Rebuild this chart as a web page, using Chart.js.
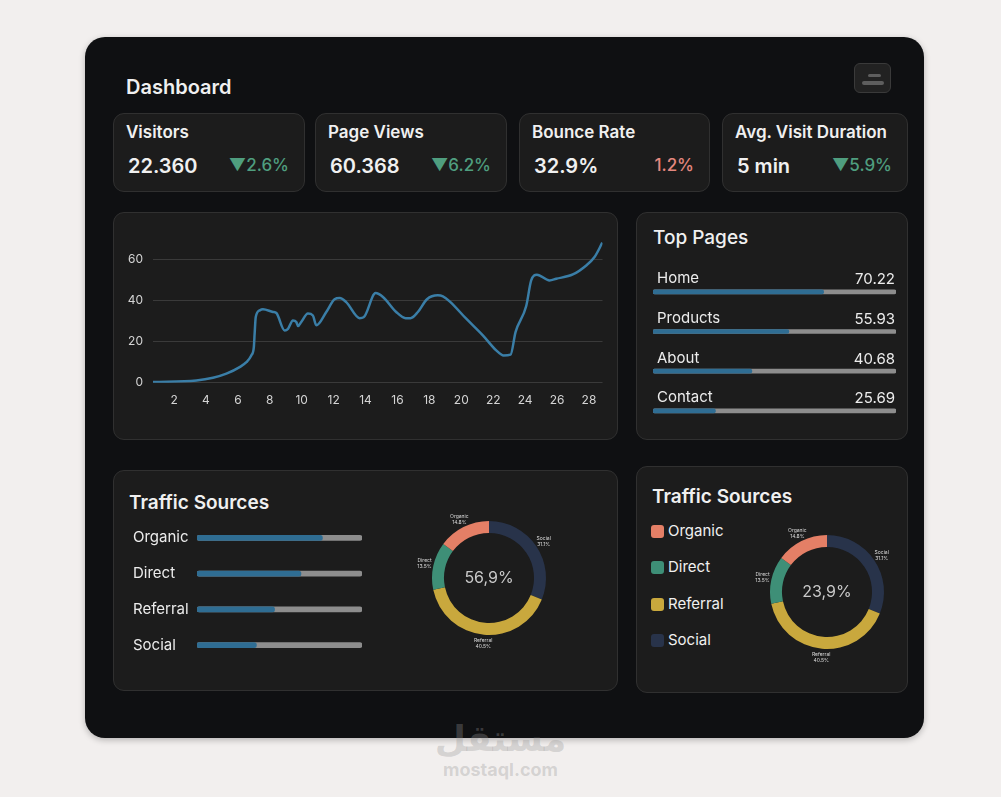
<!DOCTYPE html>
<html>
<head>
<meta charset="utf-8">
<script src="https://cdn.jsdelivr.net/npm/chart.js@4.4.0/dist/chart.umd.min.js"></script>
<style>
body{margin:0;width:1001px;height:797px;background:#f2efee;font-family:Inter,"Noto Sans",sans-serif;position:relative;overflow:hidden;color:#f0f0f0;}
.panel{position:absolute;left:85px;top:37px;width:839px;height:701px;background:#0f1012;border-radius:20px;box-shadow:0 2px 6px rgba(0,0,0,.25);}
.card{position:absolute;background:#1c1c1c;border:1px solid #303030;border-radius:11px;box-sizing:border-box;}
.t{position:absolute;white-space:nowrap;line-height:1;}
canvas{position:absolute;}
.btn{position:absolute;left:854px;top:63px;width:37px;height:30px;box-sizing:border-box;background:#222;border:1px solid #3a3a3a;border-radius:6px;}
.btn i{position:absolute;background:#5e5e5e;border-radius:2px;}
.wm{position:absolute;left:0;width:1001px;text-align:center;color:rgba(150,150,150,.32);font-weight:700;line-height:1;z-index:5;}
</style>
</head>
<body>
<div class="panel"></div>
<div class="t" style="left:126px;top:77px;font-size:20px;font-weight:600;">Dashboard</div>
<div class="btn"><i style="left:13px;top:10px;width:13px;height:3px;"></i><i style="left:7px;top:17px;width:22px;height:4px;"></i></div>

<div id="stats"></div>

<div class="card" style="left:113px;top:212px;width:505px;height:228px;"></div>
<canvas id="lineChart" width="492" height="198" style="left:120px;top:222px;"></canvas>

<div class="card" style="left:636px;top:212px;width:272px;height:228px;"></div>
<div class="t" style="left:653px;top:228px;font-size:19px;font-weight:500;">Top Pages</div>
<canvas id="pagesChart" width="250" height="170" style="left:650px;top:262px;"></canvas>

<div class="card" style="left:113px;top:470px;width:505px;height:221px;"></div>
<div class="t" style="left:129px;top:493px;font-size:19px;font-weight:600;">Traffic Sources</div>
<canvas id="sourceBars" width="237" height="161" style="left:133px;top:511px;"></canvas>
<canvas id="donutLeft" width="160" height="160" style="left:409px;top:498px;"></canvas>

<div class="card" style="left:636px;top:466px;width:272px;height:227px;"></div>
<div class="t" style="left:652px;top:487px;font-size:19px;font-weight:600;">Traffic Sources</div>
<div id="legend"></div>
<canvas id="donutRight" width="160" height="160" style="left:747px;top:512px;"></canvas>

<div class="wm" style="top:721px;font-family:'DejaVu Sans',sans-serif;font-size:36px;">مستقل</div>
<div class="wm" style="top:761px;font-size:18px;">mostaql.com</div>

<script>
// ======================================
// DATA
// ======================================

const statLabels = ["Visitors","Page Views","Bounce Rate","Avg. Visit Duration"];
const statValues = ["22.360","60.368","32.9%","5 min"];
const statChanges = ["▼2.6%","▼6.2%","1.2%","▼5.9%"];
const statUp = [false,false,true,false];

const dayX = [0.68,3.4,4.44,5.28,6.11,6.53,6.84,7.0,7.05,7.12,7.37,7.57,8.2,8.41,8.93,9.14,9.45,9.66,9.77,9.97,10.39,10.7,10.91,11.54,12.06,12.38,12.79,13.63,13.88,14.63,15.09,15.92,16.51,16.82,17.28,17.85,18.53,18.85,19.27,20.31,21.35,22.19,22.65,23.09,23.4,24.07,24.38,24.74,25.53,25.95,26.99,27.83,28.35,28.84];
const visits = [0.3,1.1,2.4,4.4,7.6,10,13.3,17.4,24,32,35.3,35.8,34.5,34,25.5,26.3,30.4,29.6,27.6,29.6,33.7,32.8,28,34.5,40.7,41.3,39.3,31.5,31.9,43.7,41.8,34.5,31.5,31.5,34.5,40.7,42.6,42.1,39.7,31.2,23.1,15.8,13.3,13.7,24.7,37.4,49.9,52.7,49.9,50.7,52.8,57.2,61.3,68.3];
const dayTicks = [2,4,6,8,10,12,14,16,18,20,22,24,26,28];
const visitTicks = [0,20,40,60];

const pageNames = ["Home","Products","About","Contact"];
const pageValues = [70.22,55.93,40.68,25.69];

const sourceNames = ["Organic","Direct","Referral","Social"];
const sourceBarValues = [76,63,47,36];
const sourceShares = [14.8,13.5,40.5,31.1];
const donutCenters = ["56,9%","23,9%"];

// styles
const sourceColors = ["#e47f66","#3e8f77","#c9a83d","#28334a"];
const blue = "#2f6d93";
const track = "#8d8d8d";

Chart.defaults.font.family = "Inter, 'Noto Sans', sans-serif";
Chart.defaults.color = "#e8e8e8";
Chart.defaults.animation = false;
Chart.defaults.plugins.legend.display = false;
Chart.defaults.plugins.tooltip.enabled = false;

// ======================================
// STAT CARDS
// ======================================

const cardLeft = [113,315,519,722];
const cardWidth = [192,192,191,186];
let html = "";
statLabels.forEach((label,i)=>{
    const l = cardLeft[i];
    html += `<div class="card" style="left:${l}px;top:113px;width:${cardWidth[i]}px;height:79px;"></div>`;
    html += `<div class="t" style="left:${l+13}px;top:124px;font-size:17px;font-weight:600;">${label}</div>`;
    html += `<div class="t" style="left:${l+15}px;top:156px;font-size:20px;font-weight:600;">${statValues[i]}</div>`;
    html += `<div class="t" style="left:${l}px;width:${cardWidth[i]-16}px;text-align:right;top:157px;font-size:17px;font-weight:500;color:${statUp[i] ? "#e4877e" : "#4f9e7f"};">${statChanges[i]}</div>`;
});
document.getElementById("stats").innerHTML = html;

// legend for right donut
let lg = "";
sourceNames.forEach((name,i)=>{
    const y = [531,567,604,640][i];
    lg += `<div style="position:absolute;left:651px;top:${y-6}px;width:13px;height:13px;border-radius:3px;background:${sourceColors[i]};"></div>`;
    lg += `<div class="t" style="left:668px;top:${y-8}px;font-size:15px;">${name}</div>`;
});
document.getElementById("legend").innerHTML = lg;

// ======================================
// LINE CHART
// ======================================

new Chart(document.getElementById("lineChart"),{
    type:"line",
    data:{
        datasets:[{
            data:dayX.map((x,i)=>({x:x,y:visits[i]})),
            borderColor:"#3a7ea7",
            borderWidth:2.5,
            pointRadius:0,
            cubicInterpolationMode:"monotone",
            fill:false
        }]
    },
    options:{
        responsive:false,
        layout:{padding:{top:0,right:9.5}},
        scales:{
            x:{
                type:"linear",
                min:0.68,
                max:28.85,
                grid:{display:false,drawTicks:false},
                border:{display:false},
                afterBuildTicks:s=>{ s.ticks = dayTicks.map(v=>({value:v})); },
                afterFit:s=>{ s.height = 37.3; },
                ticks:{padding:10,font:{size:12},color:"#d4d4d4",maxRotation:0,autoSkip:false}
            },
            y:{
                min:0,
                max:70,
                grid:{color:"#3a3a3a",drawTicks:false},
                border:{display:false},
                afterBuildTicks:s=>{ s.ticks = visitTicks.map(v=>({value:v})); },
                afterFit:s=>{ s.width = 33; },
                ticks:{padding:10,font:{size:12},color:"#d4d4d4"}
            }
        }
    }
});

// ======================================
// TOP PAGES
// ======================================

const pageLabels = {
    id:"pageLabels",
    afterDatasetsDraw(chart){
        const ctx = chart.ctx;
        const meta = chart.getDatasetMeta(0);
        ctx.save();
        ctx.font = "15px Inter, 'Noto Sans', sans-serif";
        ctx.fillStyle = "#ececec";
        ctx.textBaseline = "middle";
        meta.data.forEach((bar,i)=>{
            ctx.textAlign = "left";
            ctx.fillText(pageNames[i], chart.chartArea.left + 4, bar.y - 13);
            ctx.textAlign = "right";
            ctx.fillText(pageValues[i].toFixed(2), chart.chartArea.right - 1, bar.y - 12);
        });
        ctx.restore();
    }
};

new Chart(document.getElementById("pagesChart"),{
    type:"bar",
    data:{
        labels:pageNames,
        datasets:[
            {data:pageValues,backgroundColor:blue,grouped:false,barThickness:4,borderRadius:2,borderSkipped:false},
            {data:pageValues.map(()=>100),backgroundColor:track,grouped:false,barThickness:4,borderRadius:2,borderSkipped:false}
        ]
    },
    options:{
        responsive:false,
        indexAxis:"y",
        layout:{padding:{top:10,left:3,right:4,bottom:1.3}},
        scales:{
            x:{display:false,min:0,max:100},
            y:{display:false}
        }
    },
    plugins:[pageLabels]
});

// ======================================
// TRAFFIC SOURCE BARS
// ======================================

new Chart(document.getElementById("sourceBars"),{
    type:"bar",
    data:{
        labels:sourceNames,
        datasets:[
            {data:sourceBarValues,backgroundColor:blue,grouped:false,barThickness:5,borderRadius:3,borderSkipped:false},
            {data:sourceBarValues.map(()=>100),backgroundColor:track,grouped:false,barThickness:5,borderRadius:3,borderSkipped:false}
        ]
    },
    options:{
        responsive:false,
        indexAxis:"y",
        layout:{padding:{right:8}},
        scales:{
            x:{display:false,min:0,max:100},
            y:{
                grid:{display:false,drawTicks:false},
                border:{display:false},
                afterFit:s=>{ s.width = 64; },
                ticks:{crossAlign:"far",font:{size:15},color:"#ececec",padding:0}
            }
        }
    }
});

// ======================================
// DONUTS
// ======================================

const donutOrder = [3,2,1,0];

function donutText(center){
    return {
        id:"donutText",
        afterDatasetsDraw(chart){
            const ctx = chart.ctx;
            const meta = chart.getDatasetMeta(0);
            const arc0 = meta.data[0];
            ctx.save();
            ctx.fillStyle = "#c9c9c9";
            ctx.textAlign = "center";
            ctx.textBaseline = "middle";
            ctx.font = "16px Inter, 'Noto Sans', sans-serif";
            ctx.fillText(center, arc0.x, arc0.y);
            ctx.font = "5px Inter, 'Noto Sans', sans-serif";
            ctx.fillStyle = "#dcdcdc";
            meta.data.forEach((arc,i)=>{
                const k = donutOrder[i];
                const a = (arc.startAngle + arc.endAngle) / 2;
                const r = arc.outerRadius + 9;
                const x = arc.x + Math.cos(a) * r;
                const y = arc.y + Math.sin(a) * r;
                ctx.fillText(sourceNames[k], x, y - 3);
                ctx.fillText(sourceShares[k].toFixed(1) + "%", x, y + 3);
            });
            ctx.restore();
        }
    };
}

function drawDonut(id, center){
    new Chart(document.getElementById(id),{
        type:"doughnut",
        data:{
            labels:donutOrder.map(k=>sourceNames[k]),
            datasets:[{
                data:donutOrder.map(k=>sourceShares[k]),
                backgroundColor:donutOrder.map(k=>sourceColors[k]),
                borderWidth:0
            }]
        },
        options:{
            responsive:false,
            cutout:"79%",
            layout:{padding:23}
        },
        plugins:[donutText(center)]
    });
}

drawDonut("donutLeft", donutCenters[0]);
drawDonut("donutRight", donutCenters[1]);
</script>
</body>
</html>
